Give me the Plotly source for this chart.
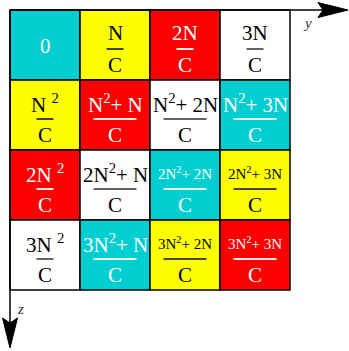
import plotly.graph_objects as go

# cell layout of the N x N block (rows go down the z axis, columns along y)
cell_colors = [
    ["cyan", "yellow", "red", "white"],
    ["yellow", "red", "white", "cyan"],
    ["red", "white", "cyan", "yellow"],
    ["white", "cyan", "yellow", "red"],
]
numerators = [
    ["0", "N", "2N", "3N"],
    ["N <sup>2</sup>", "N<sup>2</sup>+ N", "N<sup>2</sup>+ 2N", "N<sup>2</sup>+ 3N"],
    ["2N <sup>2</sup>", "2N<sup>2</sup>+ N", "2N<sup>2</sup>+ 2N", "2N<sup>2</sup>+ 3N"],
    ["3N <sup>2</sup>", "3N<sup>2</sup>+ N", "3N<sup>2</sup>+ 2N", "3N<sup>2</sup>+ 3N"],
]
denominator = "C"
small_cells = [(2, 2), (2, 3), (3, 2), (3, 3)]
axis_labels = ["y", "z"]

palette = {"cyan": "#00CED1", "yellow": "#FFFF00", "red": "#FF0000", "white": "#FFFFFF"}
text_on = {"cyan": "white", "red": "white", "yellow": "black", "white": "black"}
bar_on = {"cyan": "#E8FFFF", "red": "#FFE8E8", "yellow": "#444444", "white": "#666666"}

PX = 1 / 70.0  # one pixel in data units (cell = 70px)
FONT = "Liberation Serif"
n = len(cell_colors)

fig = go.Figure()
shapes = []
annotations = []

for r in range(n):
    for c in range(n):
        col = cell_colors[r][c]
        shapes.append(dict(type="rect", xref="x", yref="y", x0=c, x1=c + 1, y0=r, y1=r + 1,
                           fillcolor=palette[col], line=dict(color="black", width=1.5), layer="below"))
        tc = text_on[col]
        num = numerators[r][c]
        cx, cy = c + 0.5, r + 0.5
        if num == "0":
            annotations.append(dict(x=cx, y=cy + 1 * PX, xref="x", yref="y", text=num, showarrow=False,
                                    font=dict(family=FONT, size=21, color=tc)))
            continue
        size = 15 if (r, c) in small_cells else 21
        annotations.append(dict(x=cx, y=cy - 12 * PX, xref="x", yref="y", text=num, showarrow=False,
                                font=dict(family=FONT, size=size, color=tc)))
        annotations.append(dict(x=cx, y=cy + 20 * PX, xref="x", yref="y", text=denominator, showarrow=False,
                                font=dict(family=FONT, size=21, color=tc)))
        half = (21.5 if "+" in num else 8.5) * PX
        shapes.append(dict(type="line", xref="x", yref="y", x0=cx - half, x1=cx + half,
                           y0=cy + 4 * PX, y1=cy + 4 * PX, line=dict(color=bar_on[col], width=2)))

# axis arrows
tip = 338 * PX
head_len, head_half, notch = 30 * PX, 7.5 * PX, 5 * PX
shapes.append(dict(type="line", xref="x", yref="y", x0=0, x1=tip - head_len + notch, y0=0, y1=0,
                   line=dict(color="black", width=1.5)))
shapes.append(dict(type="line", xref="x", yref="y", x0=0, x1=0, y0=0, y1=tip - head_len + notch,
                   line=dict(color="black", width=1.5)))
b = tip - head_len
shapes.append(dict(type="path", xref="x", yref="y",
                   path=f"M{tip},0 L{b},{-head_half} L{b + notch},0 L{b},{head_half} Z",
                   fillcolor="black", line=dict(color="black", width=1)))
shapes.append(dict(type="path", xref="x", yref="y",
                   path=f"M0,{tip} L{-head_half},{b} L0,{b + notch} L{head_half},{b} Z",
                   fillcolor="black", line=dict(color="black", width=1)))
annotations.append(dict(x=297 * PX, y=13 * PX, xref="x", yref="y", text=f"<i>{axis_labels[0]}</i>",
                        showarrow=False, font=dict(family=FONT, size=15, color="#333333")))
annotations.append(dict(x=10 * PX, y=299 * PX, xref="x", yref="y", text=f"<i>{axis_labels[1]}</i>",
                        showarrow=False, font=dict(family=FONT, size=15, color="#333333")))

# invisible trace so the axes exist
fig.add_trace(go.Scatter(x=[0], y=[0], mode="markers", marker=dict(opacity=0), hoverinfo="skip",
                         showlegend=False))

fig.update_layout(
    width=349, height=351,
    margin=dict(l=0, r=0, t=0, b=0),
    paper_bgcolor="white", plot_bgcolor="white",
    shapes=shapes, annotations=annotations,
    xaxis=dict(range=[-10 * PX, 339 * PX], visible=False, fixedrange=True),
    yaxis=dict(range=[341 * PX, -10 * PX], visible=False, fixedrange=True),
    showlegend=False,
)

fig.write_html("out.html", config={"displayModeBar": False},
               post_script="document.body.style.margin='0';document.body.style.overflow='hidden';")
